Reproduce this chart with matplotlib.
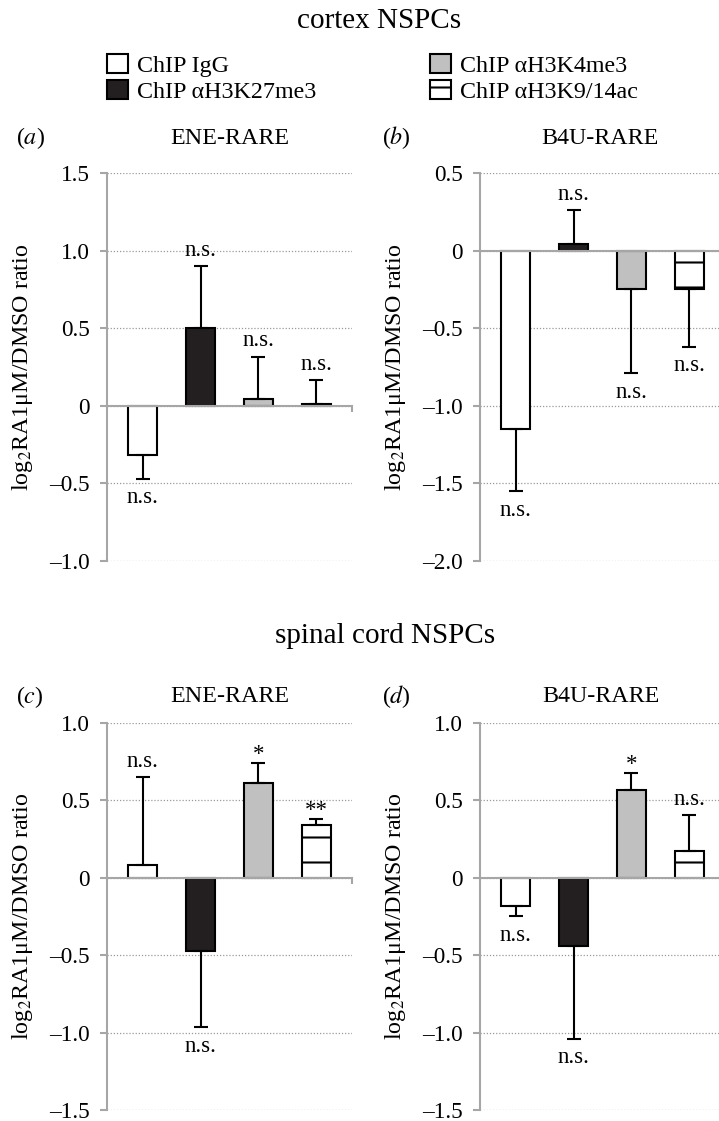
import matplotlib
matplotlib.use("Agg")
import matplotlib.pyplot as plt
from matplotlib.patches import Patch
from matplotlib.ticker import FuncFormatter, MultipleLocator

plt.rcParams["font.family"] = ["Liberation Serif", "DejaVu Serif"]
plt.rcParams["mathtext.fontset"] = "stix"
plt.rcParams["hatch.linewidth"] = 1.0

# series names (legend)
series = ["ChIP IgG", "ChIP αH3K27me3", "ChIP αH3K4me3", "ChIP αH3K9/14ac"]
fills = ["white", "#231f20", "#c0c0c0", "white"]
hatches = [None, None, None, "-"]

# (a) cortex NSPCs, ENE-RARE
a_means = [-0.32, 0.50, 0.045, 0.01]
a_errs = [0.15, 0.40, 0.27, 0.155]
a_marks = ["n.s.", "n.s.", "n.s.", "n.s."]

# (b) cortex NSPCs, B4U-RARE
b_means = [-1.15, 0.04, -0.25, -0.25]
b_errs = [0.40, 0.22, 0.54, 0.37]
b_marks = ["n.s.", "n.s.", "n.s.", "n.s."]

# (c) spinal cord NSPCs, ENE-RARE
c_means = [0.08, -0.475, 0.61, 0.34]
c_errs = [0.57, 0.49, 0.13, 0.04]
c_marks = ["n.s.", "n.s.", "*", "**"]

# (d) spinal cord NSPCs, B4U-RARE
d_means = [-0.18, -0.44, 0.57, 0.175]
d_errs = [0.066, 0.60, 0.11, 0.23]
d_marks = ["n.s.", "n.s.", "*", "n.s."]

W, H = 719, 1121
fig = plt.figure(figsize=(W / 150, H / 150), dpi=150)

AX_GRAY = "#a6a6a6"


def tick_fmt(v, pos):
    if abs(v) < 1e-9:
        return "0"
    return f"{v:.1f}".replace("-", "–")


def draw_panel(rect, means, errs, marks, ylim):
    ax = fig.add_axes(rect)
    x = list(range(len(means)))
    ax.bar(x, means, width=0.5, color=fills, edgecolor="black",
           linewidth=1.0, hatch=hatches, zorder=2)
    lower = [e if m < 0 else 0 for m, e in zip(means, errs)]
    upper = [e if m >= 0 else 0 for m, e in zip(means, errs)]
    ax.errorbar(x, means, yerr=[lower, upper], fmt="none", ecolor="black",
                elinewidth=1.0, capsize=3.5, capthick=1.0, zorder=3)

    # significance marks
    for xi, m, e, s in zip(x, means, errs, marks):
        if m >= 0:
            end = m + e
            off = 7.7 if s == "n.s." else 4.0
        else:
            end = m - e
            off = -9.2
        ax.annotate(s, (xi, end), xytext=(0, off), textcoords="offset points",
                    ha="center", va="center", fontsize=11)

    ax.set_xlim(-0.62, 3.62)
    ax.set_ylim(*ylim)
    ax.yaxis.set_major_locator(MultipleLocator(0.5))
    ax.yaxis.set_major_formatter(FuncFormatter(tick_fmt))
    ax.set_axisbelow(True)
    ax.yaxis.grid(True, linestyle=(0, (1, 1.5)), color="#9a9a9a", linewidth=0.6)

    for side in ["top", "right"]:
        ax.spines[side].set_visible(False)
    ax.spines["left"].set_color(AX_GRAY)
    ax.spines["left"].set_linewidth(1.0)
    ax.spines["bottom"].set_position(("data", 0))
    ax.spines["bottom"].set_color(AX_GRAY)
    ax.spines["bottom"].set_linewidth(1.0)
    ax.spines["bottom"].set_zorder(4)

    ax.set_xticks([ax.get_xlim()[1]])
    ax.set_xticklabels([])
    ax.tick_params(axis="x", length=3, width=1, color=AX_GRAY)
    ax.tick_params(axis="y", length=3.4, width=1, color=AX_GRAY, pad=4.8,
                   labelsize=11.2)

    ax.set_ylabel("log$_2$RA1μM/DMSO ratio", fontsize=11.5)
    ax.yaxis.set_label_coords(-0.295, 0.5)
    return ax


def fx(px):
    return px / W


def fy(py):
    return 1 - py / H


ax_w = fx(245)
draw_panel([fx(107), fy(561), ax_w, fy(173) - fy(561)], a_means, a_errs, a_marks, (-1.0, 1.5))
draw_panel([fx(480), fy(561), ax_w, fy(173) - fy(561)], b_means, b_errs, b_marks, (-2.0, 0.5))
draw_panel([fx(107), fy(1110), ax_w, fy(723) - fy(1110)], c_means, c_errs, c_marks, (-1.5, 1.0))
draw_panel([fx(480), fy(1110), ax_w, fy(723) - fy(1110)], d_means, d_errs, d_marks, (-1.5, 1.0))

# section titles and panel titles
fig.text(fx(379), fy(28), "cortex NSPCs", ha="center", va="baseline", fontsize=14)
fig.text(fx(385), fy(643), "spinal cord NSPCs", ha="center", va="baseline", fontsize=14)

fig.text(fx(30), fy(138), "($a$)", ha="center", va="center", fontsize=11.5)
fig.text(fx(230), fy(138), "ENE-RARE", ha="center", va="center", fontsize=11.5)
fig.text(fx(396), fy(138), "($b$)", ha="center", va="center", fontsize=11.5)
fig.text(fx(600), fy(138), "B4U-RARE", ha="center", va="center", fontsize=11.5)
fig.text(fx(30), fy(697), "($c$)", ha="center", va="center", fontsize=11.5)
fig.text(fx(230), fy(697), "ENE-RARE", ha="center", va="center", fontsize=11.5)
fig.text(fx(396), fy(697), "($d$)", ha="center", va="center", fontsize=11.5)
fig.text(fx(601), fy(697), "B4U-RARE", ha="center", va="center", fontsize=11.5)

handles = [Patch(facecolor=f, edgecolor="black", linewidth=1.0, hatch=h)
           for f, h in zip(fills, hatches)]
fig.legend(handles, series, ncol=2, loc="upper left",
           bbox_to_anchor=(fx(107), fy(54)), frameon=False, fontsize=11.5,
           handlelength=0.875, handleheight=0.83, handletextpad=0.37,
           labelspacing=0.15, columnspacing=4.75, borderpad=0, borderaxespad=0)

fig.savefig("out.png", dpi=150)
